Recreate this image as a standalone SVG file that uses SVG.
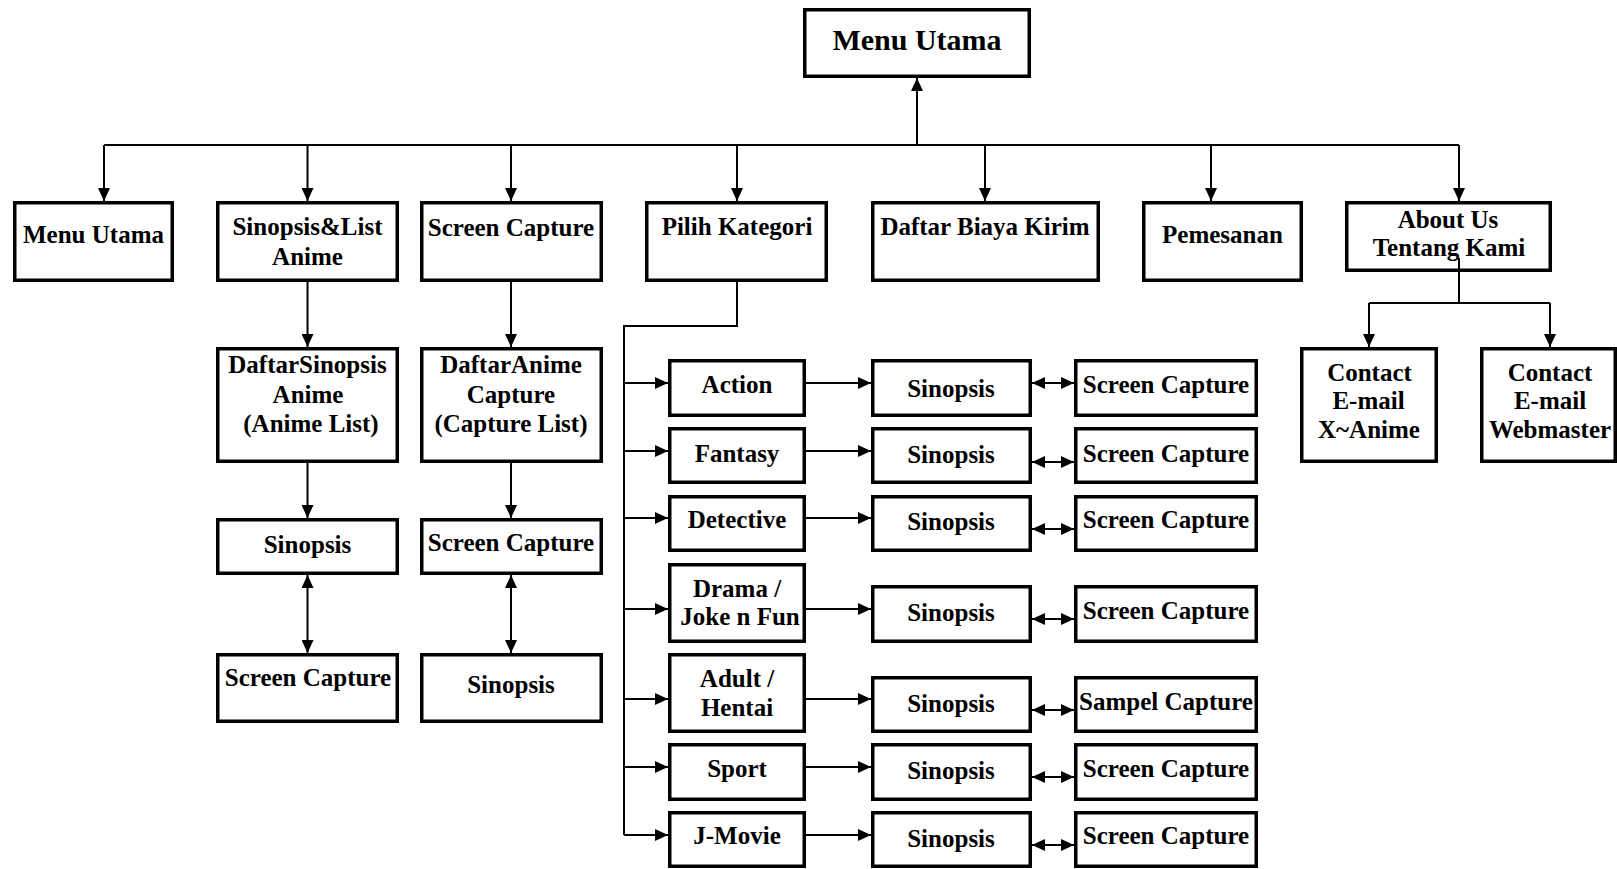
<svg xmlns="http://www.w3.org/2000/svg" width="1617" height="869" viewBox="0 0 1617 869">
<style>
.box{fill:#fff;stroke:#000;stroke-width:3.5}
.t{font-family:"Liberation Serif","Times New Roman",serif;font-weight:bold;font-size:25px;text-anchor:middle;fill:#000}
.big{font-size:30px}
.c{fill:none;stroke:#000;stroke-width:2}
.a{marker-end:url(#ah)}
.d{marker-start:url(#ah);marker-end:url(#ah)}
</style>
<defs>
<marker id="ah" viewBox="0 0 13 12" refX="13" refY="6" markerWidth="13" markerHeight="12" markerUnits="userSpaceOnUse" orient="auto-start-reverse">
<path d="M0,0 L13,6 L0,12 z" fill="#000"/>
</marker>
</defs>
<rect width="1617" height="869" fill="#fff"/>

<g id="n-top"><rect class="box" x="804.75" y="9.75" width="224.5" height="66.5"/><text class="t big" x="917" y="50">Menu Utama</text></g>

<g id="n-menu"><rect class="box" x="14.75" y="202.75" width="157.5" height="77.5"/><text class="t" x="93.5" y="243">Menu Utama</text></g>
<g id="n-sinlist"><rect class="box" x="217.75" y="202.75" width="179.5" height="77.5"/><text class="t" x="307.5" y="235">Sinopsis&amp;List</text><text class="t" x="307.5" y="265">Anime</text></g>
<g id="n-screen"><rect class="box" x="421.75" y="202.75" width="179.5" height="77.5"/><text class="t" x="511" y="236">Screen Capture</text></g>
<g id="n-kategori"><rect class="box" x="646.75" y="202.75" width="179.5" height="77.5"/><text class="t" x="737" y="235">Pilih Kategori</text></g>
<g id="n-biaya"><rect class="box" x="872.75" y="202.75" width="225.5" height="77.5"/><text class="t" x="985" y="235">Daftar Biaya Kirim</text></g>
<g id="n-pesan"><rect class="box" x="1143.75" y="202.75" width="157.5" height="77.5"/><text class="t" x="1222.5" y="243">Pemesanan</text></g>
<g id="n-about"><rect class="box" x="1346.75" y="202.75" width="203.5" height="67.5"/><text class="t" x="1448" y="228">About Us</text><text class="t" x="1449" y="256">Tentang Kami</text></g>

<g id="n-daftarsin"><rect class="box" x="217.75" y="348.75" width="179.5" height="112.5"/><text class="t" x="307.5" y="373">DaftarSinopsis</text><text class="t" x="308" y="403">Anime</text><text class="t" x="311" y="432">(Anime List)</text></g>
<g id="n-daftarani"><rect class="box" x="421.75" y="348.75" width="179.5" height="112.5"/><text class="t" x="511" y="373">DaftarAnime</text><text class="t" x="511" y="403">Capture</text><text class="t" x="511" y="432">(Capture List)</text></g>
<g id="n-sin2"><rect class="box" x="217.75" y="519.75" width="179.5" height="53.5"/><text class="t" x="307.5" y="553">Sinopsis</text></g>
<g id="n-sc3"><rect class="box" x="421.75" y="519.75" width="179.5" height="53.5"/><text class="t" x="511" y="551">Screen Capture</text></g>
<g id="n-sc2b"><rect class="box" x="217.75" y="654.75" width="179.5" height="66.5"/><text class="t" x="308" y="686">Screen Capture</text></g>
<g id="n-sin3b"><rect class="box" x="421.75" y="654.75" width="179.5" height="66.5"/><text class="t" x="511" y="693">Sinopsis</text></g>

<g id="n-cx"><rect class="box" x="1301.75" y="348.75" width="134.5" height="112.5"/><text class="t" x="1369.5" y="381">Contact</text><text class="t" x="1368.5" y="409">E-mail</text><text class="t" x="1369" y="438">X~Anime</text></g>
<g id="n-cw"><rect class="box" x="1481.75" y="348.75" width="133.5" height="112.5"/><text class="t" x="1550" y="381">Contact</text><text class="t" x="1550" y="409">E-mail</text><text class="t" x="1550" y="438">Webmaster</text></g>

<g id="n-action"><rect class="box" x="669.75" y="360.75" width="134.5" height="54.5"/><text class="t" x="737" y="393">Action</text></g>
<g id="n-fantasy"><rect class="box" x="669.75" y="428.75" width="134.5" height="53.5"/><text class="t" x="737" y="462">Fantasy</text></g>
<g id="n-detective"><rect class="box" x="669.75" y="496.75" width="134.5" height="53.5"/><text class="t" x="737" y="528">Detective</text></g>
<g id="n-drama"><rect class="box" x="669.75" y="564.75" width="134.5" height="76.5"/><text class="t" x="737" y="597">Drama /</text><text class="t" x="740" y="625">Joke n Fun</text></g>
<g id="n-adult"><rect class="box" x="669.75" y="654.75" width="134.5" height="76.5"/><text class="t" x="737" y="687">Adult /</text><text class="t" x="737" y="716">Hentai</text></g>
<g id="n-sport"><rect class="box" x="669.75" y="744.75" width="134.5" height="54.5"/><text class="t" x="737" y="777">Sport</text></g>
<g id="n-jmovie"><rect class="box" x="669.75" y="812.75" width="134.5" height="53.5"/><text class="t" x="737" y="844">J-Movie</text></g>

<g id="n-sin-a"><rect class="box" x="872.75" y="360.75" width="157.5" height="54.5"/><text class="t" x="951" y="397">Sinopsis</text></g>
<g id="n-sin-f"><rect class="box" x="872.75" y="428.75" width="157.5" height="53.5"/><text class="t" x="951" y="463">Sinopsis</text></g>
<g id="n-sin-d"><rect class="box" x="872.75" y="496.75" width="157.5" height="53.5"/><text class="t" x="951" y="530">Sinopsis</text></g>
<g id="n-sin-dr"><rect class="box" x="872.75" y="586.75" width="157.5" height="54.5"/><text class="t" x="951" y="621">Sinopsis</text></g>
<g id="n-sin-ad"><rect class="box" x="872.75" y="677.75" width="157.5" height="53.5"/><text class="t" x="951" y="712">Sinopsis</text></g>
<g id="n-sin-sp"><rect class="box" x="872.75" y="744.75" width="157.5" height="54.5"/><text class="t" x="951" y="779">Sinopsis</text></g>
<g id="n-sin-jm"><rect class="box" x="872.75" y="812.75" width="157.5" height="53.5"/><text class="t" x="951" y="847">Sinopsis</text></g>

<g id="n-sc-a"><rect class="box" x="1075.75" y="360.75" width="180.5" height="54.5"/><text class="t" x="1166" y="393">Screen Capture</text></g>
<g id="n-sc-f"><rect class="box" x="1075.75" y="428.75" width="180.5" height="53.5"/><text class="t" x="1166" y="462">Screen Capture</text></g>
<g id="n-sc-d"><rect class="box" x="1075.75" y="496.75" width="180.5" height="53.5"/><text class="t" x="1166" y="528">Screen Capture</text></g>
<g id="n-sc-dr"><rect class="box" x="1075.75" y="586.75" width="180.5" height="54.5"/><text class="t" x="1166" y="619">Screen Capture</text></g>
<g id="n-sc-ad"><rect class="box" x="1075.75" y="677.75" width="180.5" height="53.5"/><text class="t" x="1166" y="710">Sampel Capture</text></g>
<g id="n-sc-sp"><rect class="box" x="1075.75" y="744.75" width="180.5" height="54.5"/><text class="t" x="1166" y="777">Screen Capture</text></g>
<g id="n-sc-jm"><rect class="box" x="1075.75" y="812.75" width="180.5" height="53.5"/><text class="t" x="1166" y="844">Screen Capture</text></g>

<g id="connectors">
<path class="c a" d="M917,145 V78"/>
<path class="c" d="M104,145 H1459"/>
<path class="c a" d="M104,145 V201"/>
<path class="c a" d="M307.5,145 V201"/>
<path class="c a" d="M511,145 V201"/>
<path class="c a" d="M737,145 V201"/>
<path class="c a" d="M985,145 V201"/>
<path class="c a" d="M1211,145 V201"/>
<path class="c a" d="M1459,145 V201"/>

<path class="c a" d="M307.5,282 V347"/>
<path class="c a" d="M511,282 V347"/>
<path class="c a" d="M307.5,463 V518"/>
<path class="c a" d="M511,463 V518"/>
<path class="c d" d="M307.5,575 V653"/>
<path class="c d" d="M511,575 V653"/>

<path class="c" d="M1459,258 V303 M1369,303 H1550"/>
<path class="c a" d="M1369,303 V347"/>
<path class="c a" d="M1550,303 V347"/>

<path class="c" d="M737,282 V326 H624 V835"/>
<path class="c a" d="M624,383 H668"/>
<path class="c a" d="M624,451 H668"/>
<path class="c a" d="M624,518 H668"/>
<path class="c a" d="M624,609 H668"/>
<path class="c a" d="M624,699 H668"/>
<path class="c a" d="M624,767 H668"/>
<path class="c a" d="M624,835 H668"/>

<path class="c a" d="M806,383 H871"/>
<path class="c a" d="M806,451 H871"/>
<path class="c a" d="M806,518 H871"/>
<path class="c a" d="M806,609 H871"/>
<path class="c a" d="M806,699 H871"/>
<path class="c a" d="M806,767 H871"/>
<path class="c a" d="M806,835 H871"/>

<path class="c d" d="M1032,383 H1074"/>
<path class="c d" d="M1032,462 H1074"/>
<path class="c d" d="M1032,529 H1074"/>
<path class="c d" d="M1032,619 H1074"/>
<path class="c d" d="M1032,710 H1074"/>
<path class="c d" d="M1032,777 H1074"/>
<path class="c d" d="M1032,845 H1074"/>
</g>
</svg>
